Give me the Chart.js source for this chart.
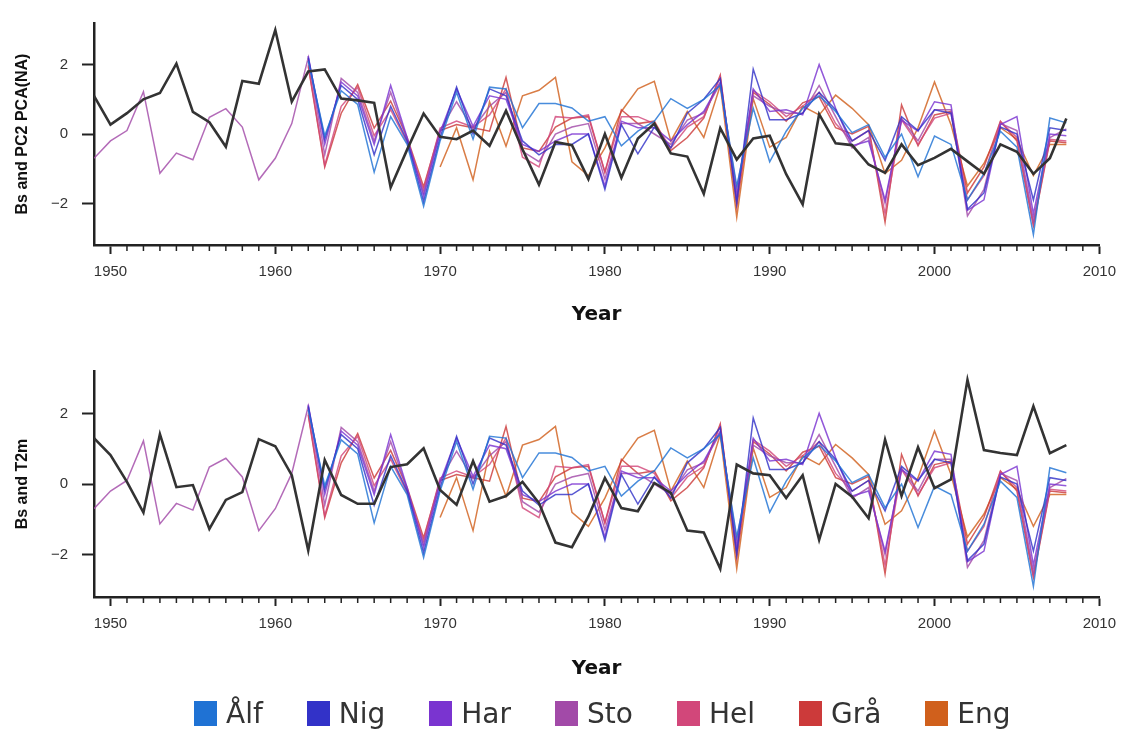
<!DOCTYPE html>
<html>
  <head>
    <meta charset="UTF-8" />
    <script src="https://cdn.jsdelivr.net/npm/chart.js"></script>
    <style>
      html,
      body {
        margin: 0;
        padding: 0;
        background: #fff;
        overflow: hidden;
      }
      body {
        width: 1125px;
        height: 729px;
        position: relative;
      }
      .panel {
        position: absolute;
        left: 0;
        width: 1125px;
      }
      #topWrap {
        top: 0;
        height: 340px;
      }
      #botWrap {
        top: 340px;
        height: 389px;
      }
      #legend {
        position: absolute;
        top: 697px;
        left: 194px;
        display: flex;
        align-items: center;
        font-family: "DejaVu Sans", sans-serif;
        font-size: 28px;
        color: #333;
      }
      #legend .item {
        display: flex;
        align-items: center;
        margin-right: 44px;
      }
      #legend .box {
        width: 23px;
        height: 25px;
        margin-right: 9px;
      }
    </style>
  </head>
  <body>
    <div class="panel" id="topWrap"><canvas id="topChart"></canvas></div>
    <div class="panel" id="botWrap"><canvas id="botChart"></canvas></div>
    <div id="legend"></div>
    <script>
      // 연도 1949 ~ 2008
      const years = [];
      for (let y = 1949; y <= 2008; y++) years.push(y);

      const xTickVals = [1950, 1960, 1970, 1980, 1990, 2000, 2010];
      const yTickVals = [-2, 0, 2];

      const glacierNames = ["Ålf", "Nig", "Har", "Sto", "Hel", "Grå", "Eng"];
      const glacierColors = ["#1f72d4", "#3232c8", "#7a34d0", "#a24aa8", "#d2477a", "#cc3a3a", "#d0601c"];

      const pre = [null, null, null, null, null, null, null, null, null, null, null, null, null]; // 1949-1961

      const alf = pre.concat([2.1, -0.05, 1.25, 0.85, -1.1, 0.5, -0.3, -2.08, -0.2, 1.2, -0.15, 1.35, 1.3, 0.18, 0.88, 0.88, 0.75, 0.37, 0.5, -0.34, 0.08, 0.37, 1.02, 0.74, 1.0, 1.4, -1.5, 0.74, -0.8, 0.08, 0.74, 1.1, 0.65, 0.04, 0.27, -0.67, 0.0, -1.23, -0.06, -0.3, -1.9, -1.14, 0.08, -0.38, -2.9, 0.46, 0.32]);
      const nig = pre.concat([2.2, -0.15, 1.4, 1.0, -0.6, 0.8, -0.2, -1.95, -0.1, 1.35, 0.0, 1.3, 1.1, -0.2, -0.6, -0.3, -0.3, 0.0, -1.6, 0.27, -0.57, 0.2, -0.4, 0.6, 1.0, 1.6, -2.0, 1.87, 0.41, 0.41, 0.6, 1.2, 0.7, -0.2, 0.1, -0.76, 0.5, 0.1, 0.7, 0.6, -2.17, -1.7, 0.2, 0.0, -1.9, 0.18, 0.1]);
      const har = pre.concat([2.25, -0.3, 1.5, 1.1, -0.3, 1.4, -0.1, -1.8, 0.05, 1.3, 0.22, 1.1, 1.0, -0.3, -0.5, -0.2, 0.0, 0.0, -1.5, 0.37, 0.18, 0.18, -0.2, 0.27, 0.65, 1.5, -1.8, 1.3, 0.65, 0.7, 0.55, 2.0, 0.74, -0.34, -0.2, -1.9, 0.4, 0.08, 0.93, 0.84, -2.2, -1.9, 0.27, 0.5, -2.3, 0.0, -0.05]);
      const sto = [-0.7, -0.2, 0.1, 1.22, -1.13, -0.55, -0.74, 0.48, 0.73, 0.2, -1.32, -0.7, 0.3,
        2.2, -0.6, 1.6, 1.2, -0.2, 1.2, -0.15, -1.7, 0.1, 0.93, 0.15, 0.8, 1.2, -0.5, -0.8, 0.0, 0.2, 0.3, -1.3, 0.3, 0.3, 0.0, -0.3, 0.4, 0.6, 1.45, -1.6, 1.1, 0.8, 0.6, 0.6, 1.4, 0.5, -0.4, -0.1, -2.0, 0.45, -0.2, 0.7, 0.7, -2.36, -1.6, 0.3, 0.1, -2.5, -0.1, 0.15];
      const hel = pre.concat([2.0, -0.9, 0.8, 1.35, -0.05, 0.7, -0.25, -1.6, 0.17, 0.37, 0.2, 0.55, 1.3, -0.67, -0.95, 0.5, 0.46, 0.55, -1.1, 0.5, 0.5, 0.3, -0.4, 0.2, 0.5, 1.65, -1.9, 1.25, 0.93, 0.5, 0.8, 1.2, 0.3, -0.2, 0.1, -2.3, 0.41, -0.3, 0.46, 0.6, -1.9, -1.2, 0.35, -0.1, -2.6, -0.15, -0.2]);
      const gra = pre.concat([1.95, -0.95, 0.6, 1.43, 0.17, 0.95, -0.1, -1.52, 0.1, 0.27, 0.18, 0.08, 1.63, -0.4, -0.5, 0.2, 0.46, 0.5, -1.1, 0.7, 0.3, 0.37, -0.48, -0.1, 0.46, 1.7, -2.1, 1.2, 0.85, 0.37, 0.9, 1.07, 0.18, 0.0, 0.22, -2.54, 0.84, -0.34, 0.55, 0.65, -1.7, -0.95, 0.37, -0.2, -2.64, -0.2, -0.25]);
      const eng = pre.concat([null, null, null, null, null, null, null, null,
        -0.95, 0.18, -1.32, 0.93, -0.35, 1.1, 1.26, 1.63, -0.8, -1.2, -0.4, 0.65, 1.3, 1.52, -0.2, 0.65, -0.1, 1.4, -2.4, 1.02, -0.38, -0.1, 0.8, 0.55, 1.12, 0.74, 0.27, -1.14, -0.76, 0.18, 1.5, 0.27, -1.5, -0.85, 0.18, -0.15, -1.2, -0.3, -0.3]);

      // 검은 선: 위 PC2 PCA(NA), 아래 T2m
      const pc2 = [1.1, 0.27, 0.6, 1.0, 1.18, 2.03, 0.64, 0.34, -0.37, 1.53, 1.45, 3.0, 0.93, 1.8, 1.86, 1.02, 0.97, 0.9, -1.54, -0.45, 0.59, -0.08, -0.15, 0.1, -0.34, 0.67, -0.44, -1.46, -0.23, -0.32, -1.3, 0.0, -1.26, -0.13, 0.3, -0.56, -0.65, -1.72, 0.17, -0.74, -0.13, -0.05, -1.16, -2.03, 0.57, -0.27, -0.32, -0.88, -1.12, -0.3, -0.9, -0.69, -0.43, -0.79, -1.15, -0.3, -0.51, -1.15, -0.7, 0.45];
      const t2m = [1.3, 0.82, 0.06, -0.81, 1.41, -0.09, -0.03, -1.27, -0.45, -0.23, 1.27, 1.07, 0.25, -1.88, 0.68, -0.31, -0.56, -0.56, 0.48, 0.56, 1.01, -0.17, -0.59, 0.65, -0.5, -0.34, 0.06, -0.54, -1.66, -1.79, -0.92, 0.17, -0.68, -0.77, 0.03, -0.25, -1.32, -1.37, -2.4, 0.55, 0.3, 0.25, -0.4, 0.25, -1.58, 0.0, -0.36, -0.97, 1.26, -0.34, 1.04, -0.12, 0.13, 2.95, 0.96, 0.88, 0.82, 2.2, 0.87, 1.1];

      const glacierData = [alf, nig, har, sto, hel, gra, eng];

      function toPoints(arr) {
        return years.map((yr, i) => ({ x: yr, y: arr[i] }));
      }

      // 작은 눈금(매년)
      const minorTicks = {
        id: "minorTicks",
        afterDraw(chart) {
          const { ctx, chartArea, scales } = chart;
          const x = scales.x;
          ctx.save();
          ctx.strokeStyle = "#222";
          ctx.lineWidth = 1.5;
          for (let yr = 1950; yr < 2010; yr++) {
            if (yr % 10 === 0) continue;
            const px = x.getPixelForValue(yr);
            ctx.beginPath();
            ctx.moveTo(px, chartArea.bottom);
            ctx.lineTo(px, chartArea.bottom + 6);
            ctx.stroke();
          }
          ctx.restore();
        },
      };

      function makePanel(canvasId, blackData, yTitle, padTop, xHeight, titlePad) {
        const datasets = [
          {
            label: "black",
            data: toPoints(blackData),
            borderColor: "#333333",
            borderWidth: 2.6,
            pointRadius: 0,
            order: 0,
          },
        ];
        glacierNames.forEach((name, i) => {
          datasets.push({
            label: name,
            data: toPoints(glacierData[i]),
            borderColor: glacierColors[i] + "d0",
            borderWidth: 1.5,
            pointRadius: 0,
            order: 1 + i,
          });
        });
        const tickFont = { family: "Liberation Sans", size: 15 };
        return new Chart(document.getElementById(canvasId), {
          type: "line",
          data: { datasets: datasets },
          options: {
            responsive: true,
            maintainAspectRatio: false,
            animation: false,
            layout: { padding: { top: padTop, right: 24, left: 0, bottom: 0 } },
            plugins: { legend: { display: false }, tooltip: { enabled: false } },
            elements: { line: { tension: 0 } },
            scales: {
              x: {
                type: "linear",
                min: 1949,
                max: 2010,
                afterBuildTicks: (a) => (a.ticks = xTickVals.map((v) => ({ value: v }))),
                afterFit: (s) => (s.height = xHeight),
                ticks: { font: tickFont, color: "#333", padding: 9, maxRotation: 0, autoSkip: false, callback: (v) => String(v) },
                grid: { drawOnChartArea: false, drawTicks: true, tickLength: 9, tickWidth: 2, tickColor: "#222" },
                border: { display: true, width: 2.5, color: "#222" },
                title: {
                  display: true,
                  text: "Year",
                  color: "#111",
                  font: { family: "DejaVu Sans", size: 20, weight: "bold" },
                  padding: { top: 0, bottom: titlePad },
                },
              },
              y: {
                min: -3.2,
                max: 3.2,
                afterBuildTicks: (a) => (a.ticks = yTickVals.map((v) => ({ value: v }))),
                afterFit: (s) => (s.width = 94),
                ticks: { font: tickFont, color: "#333", padding: 14, callback: (v) => (v < 0 ? "\u2212" + Math.abs(v) : String(v)) },
                grid: { drawOnChartArea: false, drawTicks: true, tickLength: 12, tickWidth: 2, tickColor: "#222" },
                border: { display: true, width: 2.5, color: "#222" },
                title: {
                  display: true,
                  text: yTitle,
                  color: "#111",
                  font: { family: "Liberation Sans", size: 16, weight: "bold" },
                  padding: { top: 13, bottom: 0 },
                },
              },
            },
          },
          plugins: [minorTicks],
        });
      }

      const topChart = makePanel("topChart", pc2, "Bs and PC2 PCA(NA)", 16, 95, 13);
      const botChart = makePanel("botChart", t2m, "Bs and T2m", 31, 132, 48);

      // 범례
      const legendEl = document.getElementById("legend");
      glacierNames.forEach((name, i) => {
        const item = document.createElement("div");
        item.className = "item";
        const box = document.createElement("span");
        box.className = "box";
        box.style.background = glacierColors[i];
        const txt = document.createElement("span");
        txt.textContent = name;
        item.appendChild(box);
        item.appendChild(txt);
        legendEl.appendChild(item);
      });
    </script>
  </body>
</html>
